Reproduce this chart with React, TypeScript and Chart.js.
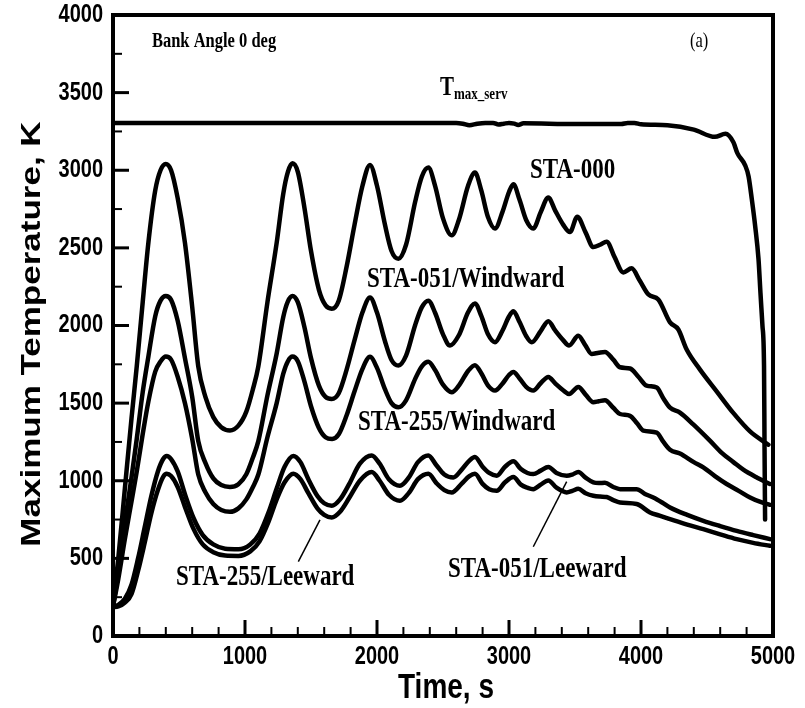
import React, { useEffect, useRef } from "react";
import { Chart, registerables } from "chart.js";

Chart.register(...registerables);

// ---------- data ----------
const tmaxT = [0, 2600, 2650, 2700, 2760, 2820, 2880, 2920, 2960, 3000, 3040, 3070, 3110, 3500, 3850, 3900, 3950, 4000, 4200, 4400, 4560, 4640, 4700, 4730, 4790, 4815, 4840, 4865, 4890, 4905, 4920, 4932, 4936, 4940];
const tmaxV = [3305, 3305, 3300, 3290, 3300, 3305, 3305, 3295, 3300, 3305, 3300, 3292, 3302, 3298, 3298, 3305, 3305, 3296, 3290, 3262, 3215, 3235, 3180, 3110, 3030, 2960, 2810, 2640, 2430, 2210, 2000, 1740, 1200, 750];

const sta000T = [0, 40, 90, 140, 180, 225, 268, 320, 360, 400, 440, 490, 545, 600, 646, 700, 760, 820, 886, 950, 1010, 1060, 1101, 1170, 1240, 1290, 1325, 1360, 1400, 1450, 1500, 1560, 1610, 1657, 1710, 1770, 1830, 1890, 1947, 2000, 2060, 2110, 2162, 2220, 2290, 2340, 2389, 2440, 2500, 2566, 2620, 2690, 2742, 2790, 2840, 2894, 2950, 3000, 3033, 3080, 3130, 3184, 3240, 3298, 3350, 3410, 3462, 3517, 3580, 3639, 3690, 3740, 3800, 3866, 3929, 3990, 4056, 4131, 4220, 4283, 4346, 4447, 4573, 4699, 4826, 4965];
const sta000V = [190, 500, 950, 1400, 1737, 2150, 2533, 2870, 3000, 3040, 3000, 2820, 2533, 2120, 1737, 1540, 1410, 1345, 1324, 1355, 1445, 1590, 1737, 2150, 2533, 2850, 2990, 3045, 2990, 2760, 2480, 2230, 2130, 2108, 2160, 2380, 2650, 2900, 3034, 2900, 2650, 2480, 2430, 2520, 2800, 2960, 3017, 2900, 2690, 2581, 2680, 2900, 2985, 2870, 2700, 2624, 2730, 2860, 2910, 2810, 2680, 2624, 2730, 2824, 2740, 2650, 2602, 2701, 2600, 2505, 2520, 2540, 2440, 2342, 2368, 2290, 2200, 2168, 2020, 1974, 1845, 1716, 1576, 1437, 1318, 1232];

const sta051wT = [0, 40, 90, 140, 180, 225, 268, 320, 360, 400, 440, 490, 545, 600, 646, 700, 760, 820, 886, 950, 1010, 1060, 1101, 1170, 1240, 1290, 1325, 1360, 1400, 1450, 1500, 1560, 1610, 1657, 1710, 1770, 1830, 1890, 1947, 2000, 2060, 2110, 2162, 2220, 2290, 2340, 2389, 2440, 2500, 2553, 2620, 2690, 2742, 2790, 2840, 2894, 2950, 3000, 3033, 3080, 3130, 3172, 3240, 3298, 3350, 3410, 3455, 3525, 3580, 3626, 3680, 3727, 3790, 3841, 3917, 3980, 4043, 4119, 4170, 4220, 4295, 4396, 4520, 4614, 4700, 4775, 4880, 4977];
const sta051wV = [190, 410, 730, 1020, 1270, 1570, 1800, 2060, 2160, 2190, 2165, 2030, 1790, 1540, 1255, 1115, 1015, 972, 960, 978, 1042, 1150, 1255, 1550, 1820, 2055, 2155, 2190, 2150, 1990, 1790, 1613, 1540, 1527, 1564, 1716, 1906, 2085, 2180, 2083, 1900, 1778, 1742, 1806, 2005, 2118, 2160, 2082, 1943, 1871, 1937, 2085, 2142, 2062, 1945, 1892, 1966, 2058, 2092, 2022, 1932, 1892, 1964, 2028, 1968, 1906, 1871, 1934, 1870, 1817, 1825, 1830, 1780, 1731, 1723, 1670, 1613, 1600, 1530, 1471, 1439, 1363, 1260, 1178, 1120, 1071, 1020, 979];

const sta255wT = [0, 40, 90, 140, 180, 225, 268, 320, 360, 400, 440, 490, 545, 600, 646, 700, 760, 820, 886, 950, 1010, 1060, 1101, 1170, 1240, 1290, 1325, 1360, 1400, 1450, 1500, 1560, 1610, 1660, 1710, 1770, 1830, 1890, 1947, 2000, 2060, 2110, 2162, 2220, 2290, 2340, 2389, 2440, 2500, 2566, 2620, 2690, 2742, 2790, 2840, 2894, 2950, 3000, 3033, 3080, 3130, 3184, 3240, 3298, 3350, 3410, 3455, 3525, 3580, 3639, 3680, 3727, 3790, 3841, 3917, 3970, 4018, 4119, 4170, 4220, 4295, 4400, 4472, 4560, 4649, 4740, 4826, 4900, 4977];
const sta255wV = [190, 367, 625, 866, 1060, 1300, 1510, 1703, 1768, 1800, 1780, 1670, 1500, 1270, 1040, 926, 850, 812, 800, 822, 880, 960, 1040, 1280, 1500, 1690, 1770, 1800, 1770, 1640, 1480, 1340, 1280, 1269, 1299, 1422, 1576, 1721, 1798, 1727, 1590, 1500, 1473, 1518, 1658, 1737, 1766, 1713, 1619, 1570, 1613, 1707, 1744, 1692, 1615, 1581, 1625, 1681, 1701, 1659, 1605, 1581, 1628, 1669, 1627, 1583, 1559, 1604, 1555, 1506, 1512, 1518, 1470, 1430, 1418, 1370, 1323, 1310, 1250, 1200, 1175, 1120, 1086, 1030, 979, 935, 892, 865, 845];

const sta051lT = [0, 40, 90, 140, 190, 240, 290, 340, 380, 407, 440, 490, 550, 610, 680, 760, 850, 950, 1040, 1110, 1180, 1240, 1300, 1366, 1420, 1480, 1550, 1600, 1657, 1720, 1790, 1870, 1960, 2020, 2090, 2174, 2240, 2310, 2389, 2450, 2510, 2578, 2640, 2700, 2742, 2800, 2850, 2907, 2970, 3033, 3090, 3140, 3184, 3240, 3298, 3360, 3437, 3480, 3525, 3580, 3639, 3680, 3727, 3790, 3841, 3967, 4030, 4093, 4160, 4220, 4350, 4472, 4600, 4725, 4850, 4977];
const sta051lV = [190, 200, 240, 330, 500, 700, 900, 1060, 1140, 1160, 1140, 1060, 900, 760, 650, 590, 562, 559, 590, 660, 800, 950, 1090, 1160, 1120, 1010, 900, 855, 839, 880, 980, 1110, 1163, 1110, 1010, 968, 1020, 1120, 1163, 1100, 1040, 1021, 1070, 1130, 1153, 1090, 1050, 1032, 1090, 1125, 1075, 1050, 1043, 1065, 1088, 1050, 1032, 1040, 1056, 1020, 989, 985, 987, 960, 946, 946, 915, 892, 860, 828, 780, 742, 708, 677, 650, 624];

const sta255lT = [0, 40, 90, 140, 190, 240, 290, 340, 380, 407, 440, 490, 550, 610, 680, 760, 850, 950, 1040, 1110, 1180, 1240, 1300, 1366, 1420, 1480, 1550, 1600, 1657, 1720, 1790, 1870, 1960, 2020, 2090, 2174, 2240, 2310, 2389, 2450, 2510, 2566, 2640, 2700, 2742, 2800, 2850, 2907, 2970, 3033, 3090, 3140, 3184, 3240, 3298, 3360, 3437, 3480, 3525, 3580, 3639, 3690, 3740, 3790, 3841, 3967, 4068, 4140, 4220, 4350, 4472, 4600, 4725, 4850, 4977];
const sta255lV = [185, 190, 215, 270, 420, 600, 790, 940, 1025, 1045, 1030, 960, 820, 690, 590, 540, 518, 516, 545, 610, 740, 880, 990, 1045, 1010, 920, 820, 780, 763, 800, 890, 1000, 1056, 1000, 910, 871, 920, 1010, 1045, 985, 940, 925, 980, 1030, 1045, 980, 945, 935, 990, 1024, 975, 955, 946, 975, 1002, 955, 925, 935, 948, 920, 903, 898, 895, 875, 860, 850, 796, 775, 753, 718, 688, 655, 624, 600, 581];

const xTickValues = [0, 1000, 2000, 3000, 4000, 5000];
const yTickValues = [0, 500, 1000, 1500, 2000, 2500, 3000, 3500, 4000];

const X_TITLE = "Time, s";
const Y_TITLE = "Maximum Temperature, K";

// ---------- styling / layout ----------
const W = 805;
const H = 708;
const SANS = "'Liberation Sans', Arial, Helvetica, sans-serif";
const SERIF = "'Liberation Serif', 'Times New Roman', Times, serif";
const STRETCH = 1.25;

function txt(ctx: CanvasRenderingContext2D, s: string, x: number, y: number, font: string, align: CanvasTextAlign, rotate = false) {
  ctx.save();
  ctx.translate(x, y);
  if (rotate) {
    ctx.rotate(-Math.PI / 2);
    ctx.scale(STRETCH, 1);
  } else {
    ctx.scale(1, STRETCH);
  }
  ctx.font = font;
  ctx.textAlign = align;
  ctx.textBaseline = "middle";
  ctx.fillStyle = "#000";
  ctx.fillText(s, 0, 0);
  ctx.restore();
}

const framePlugin = {
  id: "framePlugin",
  afterDraw(chart: any) {
    const { ctx, chartArea: a, scales } = chart;
    const xs = scales.x;
    const ys = scales.y;
    ctx.save();
    ctx.strokeStyle = "#000";
    // ticks (inside, left & bottom only)
    for (let t = 0; t <= 5000; t += 200) {
      const major = t % 1000 === 0;
      const px = xs.getPixelForValue(t);
      ctx.lineWidth = major ? 3 : 2;
      ctx.beginPath();
      ctx.moveTo(px, a.bottom);
      ctx.lineTo(px, a.bottom - (major ? 16 : 9));
      ctx.stroke();
    }
    for (let v = 0; v <= 4000; v += 250) {
      const major = v % 500 === 0;
      const py = ys.getPixelForValue(v);
      ctx.lineWidth = major ? 3 : 2;
      ctx.beginPath();
      ctx.moveTo(a.left, py);
      ctx.lineTo(a.left + (major ? 16 : 9), py);
      ctx.stroke();
    }
    // frame
    ctx.lineWidth = 4;
    ctx.strokeRect(a.left, a.top, a.right - a.left, a.bottom - a.top);

    // tick labels
    const tickFont = `bold 20px ${SANS}`;
    xTickValues.forEach((t) => txt(ctx, String(t), xs.getPixelForValue(t), a.bottom + 21, tickFont, "center"));
    yTickValues.forEach((v) => txt(ctx, String(v), a.left - 10, ys.getPixelForValue(v), tickFont, "right"));

    // axis titles
    txt(ctx, X_TITLE, (a.left + a.right) / 2 + 3, 688, `bold 28px ${SANS}`, "center");
    txt(ctx, Y_TITLE, 32, 334, `bold 28px ${SANS}`, "center", true);

    // annotations
    const P = (t: number, v: number) => [xs.getPixelForValue(t), ys.getPixelForValue(v)];
    const lab = (s: string, t: number, v: number, size: number, weight = "bold") => {
      const [x, y] = P(t, v);
      txt(ctx, s, x, y, `${weight} ${size}px ${SERIF}`, "left");
    };
    lab("Bank Angle 0 deg", 295, 3826, 16.5);
    lab("(a)", 4371, 3826, 16.5, "normal");
    lab("STA-000", 3159, 2995, 23);
    lab("STA-051/Windward", 1924, 2293, 23);
    lab("STA-255/Windward", 1856, 1372, 23);
    lab("STA-255/Leeward", 477, 374, 23);
    lab("STA-051/Leeward", 2538, 425, 23);
    // T max_serv
    {
      const [x, y] = P(2477, 3530);
      ctx.save();
      ctx.font = `bold 21px ${SERIF}`;
      const w = ctx.measureText("T").width;
      ctx.restore();
      txt(ctx, "T", x, y, `bold 21px ${SERIF}`, "left");
      txt(ctx, "max_serv", x + w, y + 7, `bold 13px ${SERIF}`, "left");
    }
    // leader lines
    ctx.lineWidth = 1.5;
    const seg = (t1: number, v1: number, t2: number, v2: number) => {
      const [x1, y1] = P(t1, v1);
      const [x2, y2] = P(t2, v2);
      ctx.beginPath();
      ctx.moveTo(x1, y1);
      ctx.lineTo(x2, y2);
      ctx.stroke();
    };
    seg(1404, 479, 1568, 748);
    seg(3184, 575, 3437, 994);
    ctx.restore();
  },
};

function series(T: number[], V: number[]) {
  return {
    data: T.map((t, i) => ({ x: t, y: V[i] })),
    borderColor: "#000",
    borderWidth: 4.5,
    pointRadius: 0,
    fill: false,
    cubicInterpolationMode: "monotone" as const,
    borderJoinStyle: "round" as const,
    borderCapStyle: "round" as const,
  };
}

export default function App() {
  const ref = useRef<HTMLCanvasElement>(null);
  useEffect(() => {
    if (!ref.current) return;
    const chart = new Chart(ref.current, {
      type: "line",
      data: {
        datasets: [
          series(tmaxT, tmaxV),
          series(sta000T, sta000V),
          series(sta051wT, sta051wV),
          series(sta255wT, sta255wV),
          series(sta051lT, sta051lV),
          series(sta255lT, sta255lV),
        ],
      },
      options: {
        responsive: false,
        animation: false,
        layout: { padding: { left: 113, top: 15, right: 32, bottom: 72 } },
        plugins: { legend: { display: false }, tooltip: { enabled: false } },
        scales: {
          x: { type: "linear", min: 0, max: 5000, display: false },
          y: { type: "linear", min: 0, max: 4000, display: false },
        },
      },
      plugins: [framePlugin],
    });
    return () => chart.destroy();
  }, []);
  return (
    <div style={{ position: "absolute", left: 0, top: 0, width: W, height: H, background: "#fff" }}>
      <canvas ref={ref} width={W} height={H} style={{ width: W, height: H, display: "block" }} />
    </div>
  );
}
